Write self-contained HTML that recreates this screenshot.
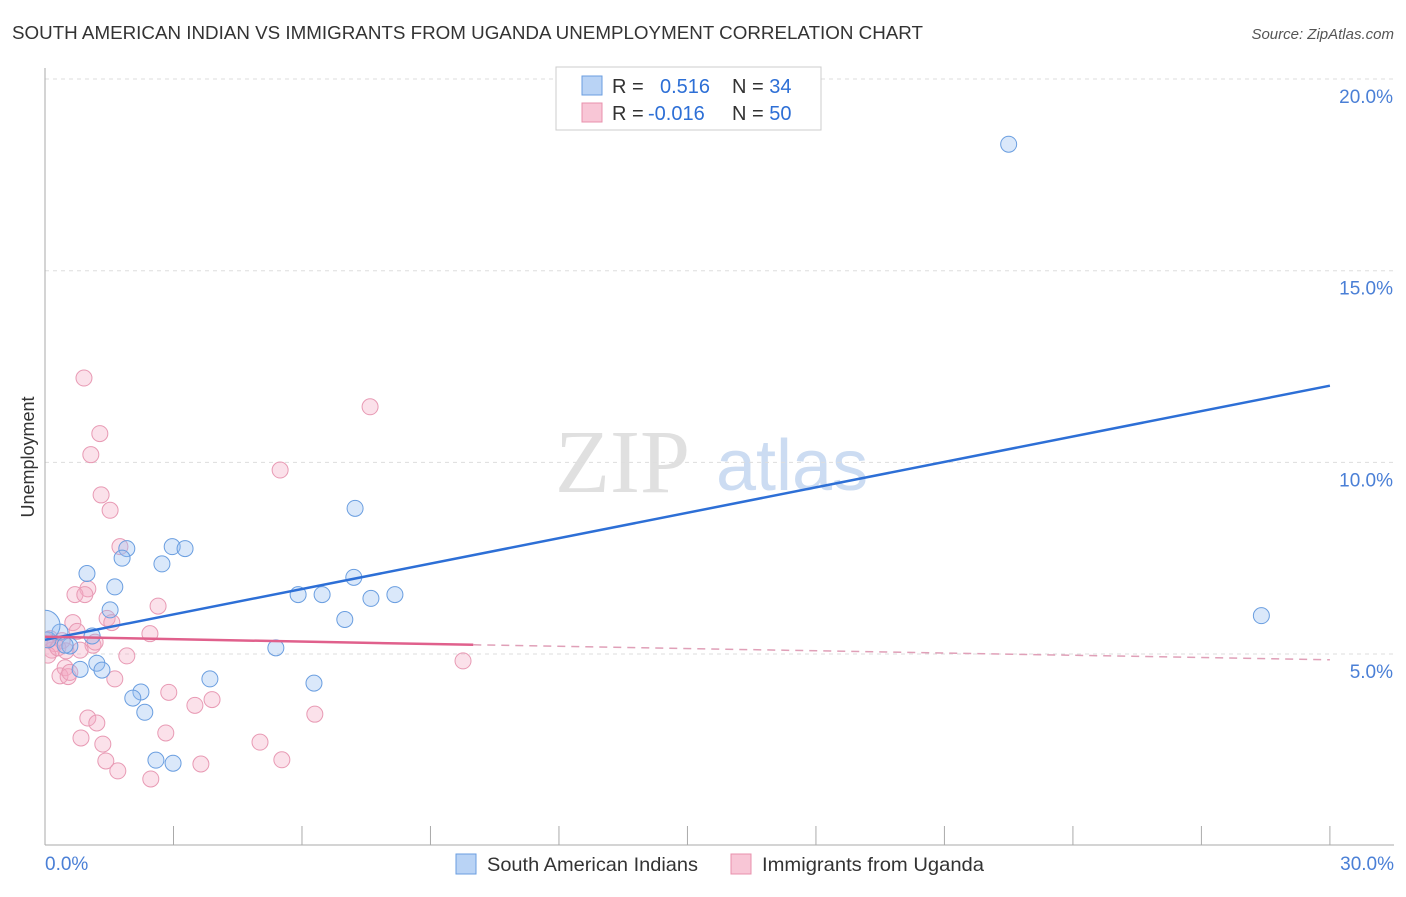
<!DOCTYPE html>
<html><head><meta charset="utf-8"><style>
body{margin:0;background:#fff;font-family:"Liberation Sans",sans-serif}
</style></head><body>
<svg width="1406" height="892" xmlns="http://www.w3.org/2000/svg" id="chart">
<defs><clipPath id="plotclip"><rect x="45" y="60" width="1360" height="786"/></clipPath></defs>
<text x="12" y="39" font-size="18" fill="#333" textLength="911" lengthAdjust="spacingAndGlyphs">SOUTH AMERICAN INDIAN VS IMMIGRANTS FROM UGANDA UNEMPLOYMENT CORRELATION CHART</text>
<text x="1394" y="39" font-size="15" fill="#555" text-anchor="end" font-style="italic">Source: ZipAtlas.com</text>
<text x="34" y="457" font-size="18" fill="#333" text-anchor="middle" transform="rotate(-90 34 457)">Unemployment</text>
<text x="555" y="492" font-size="90" fill="#e0e0e0" font-family="Liberation Serif">ZIP</text>
<text x="716" y="490" font-size="72" fill="#ccdcf2">atlas</text>
<g id="grid"></g><g id="axes"></g><g id="pts" clip-path="url(#plotclip)"></g><g id="trend"></g>
<g>
<rect x="556" y="67" width="265" height="63" fill="#fff" stroke="#ccc"/>
<rect x="582" y="76" width="20" height="19" fill="#b9d3f5" stroke="#6a9ee0"/>
<rect x="582" y="103" width="20" height="19" fill="#f8c6d6" stroke="#e890ac"/>
<text x="612" y="93" font-size="20" fill="#333">R = <tspan fill="#2d6fd6" x="660">0.516</tspan><tspan x="732" fill="#333">N = </tspan><tspan fill="#2d6fd6">34</tspan></text>
<text x="612" y="120" font-size="20" fill="#333">R = <tspan fill="#2d6fd6" x="648">-0.016</tspan><tspan x="732" fill="#333">N = </tspan><tspan fill="#2d6fd6">50</tspan></text>
</g>
<g>
<rect x="456" y="854" width="20" height="20" fill="#b9d3f5" stroke="#6a9ee0"/>
<text x="487" y="871" font-size="19.5" fill="#333" textLength="211" lengthAdjust="spacingAndGlyphs">South American Indians</text>
<rect x="731" y="854" width="20" height="20" fill="#f8c6d6" stroke="#e890ac"/>
<text x="762" y="871" font-size="19.5" fill="#333" textLength="222" lengthAdjust="spacingAndGlyphs">Immigrants from Uganda</text>
</g>
</svg>
<script>
const yTicks=[5,10,15,20];
const yTickLabels=["5.0%","10.0%","15.0%","20.0%"];
const blueX=[22.5,28.4,7.24,2.97,3.27,1.91,1.80,2.73,0.98,1.63,7.21,5.91,6.47,8.17,7.61,1.52,7.0,0.35,1.10,0.07,0.58,5.39,1.21,0.82,1.33,3.85,6.28,2.24,2.05,2.33,2.59,2.99,0.0,0.47];
const blueY=[18.3,6.0,8.8,7.8,7.75,7.75,7.5,7.35,7.1,6.75,7.0,6.55,6.55,6.55,6.45,6.15,5.9,5.57,5.47,5.37,5.21,5.16,4.76,4.6,4.58,4.35,4.24,4.01,3.85,3.48,2.23,2.15,5.75,5.23];
const pinkX=[0.91,7.59,1.28,1.07,5.49,1.31,1.52,1.75,1.0,0.70,0.93,2.64,1.45,1.56,0.65,0.75,2.45,0.12,0.23,0.40,1.12,1.17,0.16,0.07,1.91,9.76,0.47,0.35,0.54,1.63,2.89,3.90,3.50,6.30,1.0,1.21,2.82,0.84,1.35,5.02,1.42,5.53,3.64,1.70,2.47,0.58,0.30,0.0,0.82,0.49];
const pinkY=[12.2,11.45,10.75,10.2,9.8,9.15,8.75,7.8,6.7,6.55,6.55,6.25,5.93,5.82,5.82,5.59,5.53,5.4,5.27,5.35,5.23,5.31,5.1,4.97,4.95,4.82,4.64,4.43,4.41,4.35,4.0,3.81,3.66,3.43,3.33,3.2,2.94,2.81,2.65,2.7,2.21,2.24,2.13,1.95,1.74,4.52,5.16,5.37,5.1,5.08];
const blueTrend=[[0,5.37],[30,12.0]];
const pinkTrend=[[0,5.45],[10,5.24],[30,4.85]];
const X=v=>45+v*42.83, Y=v=>654-(v-5)*38.33;
const NS="http://www.w3.org/2000/svg";
function mk(tag,attrs,parent){const e=document.createElementNS(NS,tag);for(const k in attrs)e.setAttribute(k,attrs[k]);document.getElementById(parent).appendChild(e);return e;}
yTicks.forEach((t,i)=>{
 const l=mk('line',{x1:45,x2:1394,y1:Y(t),y2:Y(t),stroke:'#ddd','stroke-dasharray':'4,4'},'grid');
 
 
 const tx=mk('text',{x:1393,y:Y(t)+24,'font-size':19,fill:'#4a7fd6','text-anchor':'end'},'axes');
 tx.textContent=yTickLabels[i];
 
 
});
let a=mk('line',{x1:45,x2:45,y1:68,y2:845,stroke:'#aaa'},'axes');


a=mk('line',{x1:45,x2:1394,y1:845,y2:845,stroke:'#aaa'},'axes');


for(let i=0;i<=10;i++){const t=mk('line',{x1:X(i*3),x2:X(i*3),y1:826,y2:845,stroke:'#aaa'},'axes');
 
 }
let xl=mk('text',{x:45,y:870,'font-size':19,fill:'#4a7fd6'},'axes');xl.textContent='0.0%';


xl=mk('text',{x:1394,y:870,'font-size':19,fill:'#4a7fd6','text-anchor':'end'},'axes');xl.textContent='30.0%';


pinkX.forEach((v,i)=>{const c=mk('circle',{cx:X(v),cy:Y(pinkY[i]),r:8,fill:'rgba(244,170,195,0.35)',stroke:'#e89ab4','stroke-width':1},'pts');
 
 });
blueX.forEach((v,i)=>{const c=mk('circle',{cx:X(v),cy:Y(blueY[i]),r:i==32?15:8,fill:'rgba(150,190,240,0.35)',stroke:'#6a9ee0','stroke-width':1},'pts');
 
 });
let t=mk('line',{x1:X(blueTrend[0][0]),y1:Y(blueTrend[0][1]),x2:X(blueTrend[1][0]),y2:Y(blueTrend[1][1]),stroke:'#2d6fd6','stroke-width':2.5},'trend');


t=mk('line',{x1:X(pinkTrend[0][0]),y1:Y(pinkTrend[0][1]),x2:X(pinkTrend[1][0]),y2:Y(pinkTrend[1][1]),stroke:'#e0608c','stroke-width':2.5},'trend');


t=mk('line',{x1:X(pinkTrend[1][0]),y1:Y(pinkTrend[1][1]),x2:X(pinkTrend[2][0]),y2:Y(pinkTrend[2][1]),stroke:'#e0a0b8','stroke-width':1.5,'stroke-dasharray':'8,6'},'trend');


</script>
</body></html>
